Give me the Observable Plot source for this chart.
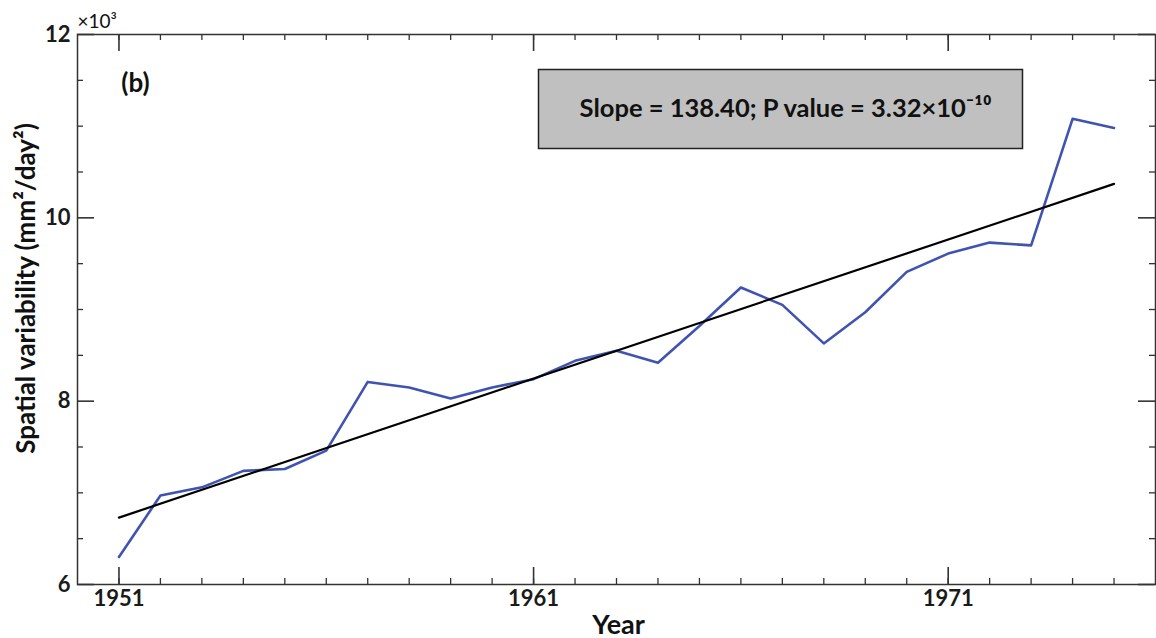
<!DOCTYPE html>
<html>
<head>
<meta charset="utf-8">
<script src="https://cdn.jsdelivr.net/npm/d3@7"></script>
<script src="https://cdn.jsdelivr.net/npm/@observablehq/plot@0.6"></script>
<style>
  html, body { margin: 0; padding: 0; background: #fff; }
  svg { display: block; }
</style>
</head>
<body>
<div id="chart"></div>
<script>
// ---- data (values in thousands of mm²/day²) ----
const years = [1951, 1952, 1953, 1954, 1955, 1956, 1957, 1958, 1959, 1960,
               1961, 1962, 1963, 1964, 1965, 1966, 1967, 1968, 1969, 1970,
               1971, 1972, 1973, 1974, 1975];
const variability = [6.30, 6.97, 7.06, 7.24, 7.26, 7.46, 8.21, 8.15, 8.03, 8.15,
                     8.24, 8.44, 8.55, 8.42, 8.82, 9.24, 9.05, 8.63, 8.97, 9.41,
                     9.61, 9.73, 9.70, 11.08, 10.98];
const trendYears = [1951, 1975];
const trendValues = [6.73, 10.37];

const xMajorTicks = [1951, 1961, 1971];
const yMajorTicks = [6, 8, 10, 12];
const yMinorTicks = [6.5, 7, 7.5, 8.5, 9, 9.5, 10.5, 11, 11.5];

const yLabel = "Spatial variability (mm²/day²)";
const xLabel = "Year";
const scaleNote = "×10³";
const panelTag = "(b)";
const statsText = "Slope = 138.40; P value = 3.32×10⁻¹⁰";

// ---- layout ----
const W = 1156, H = 638;
const mL = 77, mR = 1, mT = 34, mB = 54;
const plotW = W - mL - mR, plotH = H - mT - mB;
const minorLen = 6, majorLen = 17;
const axisColor = "#333";

const series = years.map((y, i) => ({year: y, value: variability[i]}));
const trend = trendYears.map((y, i) => ({year: y, value: trendValues[i]}));

const chart = Plot.plot({
  width: W,
  height: H,
  marginLeft: mL,
  marginRight: mR,
  marginTop: mT,
  marginBottom: mB,
  style: {fontFamily: "Lato, 'Open Sans', sans-serif", background: "#fff", color: "#1a1a1a"},
  x: {domain: [1950, 1976]},
  y: {domain: [6, 12]},
  marks: [
    // annotation box
    Plot.frame({fill: "#c0c0c0", stroke: "#222", strokeWidth: 1.5,
                insetLeft: 461, insetRight: 133, insetTop: 35, insetBottom: 436}),
    Plot.text([statsText], {frameAnchor: "top", dx: 169, dy: 74, lineAnchor: "middle",
                textAnchor: "middle", fontSize: 25.5, fontWeight: "bold", fill: "#111"}),
    // inward ticks: bottom and top
    Plot.tickX(years, {x: d => d, insetTop: plotH - minorLen, stroke: axisColor, strokeWidth: 1.3}),
    Plot.tickX(xMajorTicks, {x: d => d, insetTop: plotH - majorLen, stroke: axisColor, strokeWidth: 1.6}),
    Plot.tickX(years, {x: d => d, insetBottom: plotH - minorLen, stroke: axisColor, strokeWidth: 1.3}),
    Plot.tickX(xMajorTicks, {x: d => d, insetBottom: plotH - majorLen, stroke: axisColor, strokeWidth: 1.6}),
    // inward ticks: left and right
    Plot.tickY(yMinorTicks, {y: d => d, insetRight: plotW - minorLen, stroke: axisColor, strokeWidth: 1.3}),
    Plot.tickY(yMajorTicks, {y: d => d, insetRight: plotW - majorLen, stroke: axisColor, strokeWidth: 1.6}),
    Plot.tickY(yMinorTicks, {y: d => d, insetLeft: plotW - minorLen, stroke: axisColor, strokeWidth: 1.3}),
    Plot.tickY(yMajorTicks, {y: d => d, insetLeft: plotW - majorLen, stroke: axisColor, strokeWidth: 1.6}),
    // axes labels
    Plot.axisX({ticks: xMajorTicks, tickSize: 0, tickPadding: 6, tickFormat: d => String(d),
                fontSize: 22, fontWeight: "bold", label: null}),
    Plot.axisY({ticks: yMajorTicks, tickSize: 0, tickPadding: 7, tickFormat: d => String(d),
                fontSize: 22, fontWeight: "bold", label: null}),
    // series
    Plot.line(series, {x: "year", y: "value", stroke: "#4153b1", strokeWidth: 2.6}),
    Plot.line(trend, {x: "year", y: "value", stroke: "#000", strokeWidth: 2.2}),
    // frame
    Plot.frame({stroke: axisColor, strokeWidth: 1.5}),
    // texts
    Plot.text([panelTag], {frameAnchor: "top-left", dx: 58, dy: 49, lineAnchor: "middle",
               textAnchor: "middle", fontSize: 26, fontWeight: "bold", fill: "#111"}),
    Plot.text([scaleNote], {frameAnchor: "top-left", dx: 0, dy: -13, lineAnchor: "middle",
               textAnchor: "start", fontSize: 19, fill: "#111"}),
    Plot.text([yLabel], {frameAnchor: "left", rotate: -90, dx: -51, dy: -21, lineAnchor: "middle",
               textAnchor: "middle", fontSize: 26, fontWeight: "bold", fill: "#111"}),
    Plot.text([xLabel], {frameAnchor: "bottom", dx: 2, dy: 49, lineAnchor: "bottom",
               textAnchor: "middle", fontSize: 27, fontWeight: "bold", fill: "#111"})
  ]
});
document.getElementById("chart").appendChild(chart);
</script>
</body>
</html>
